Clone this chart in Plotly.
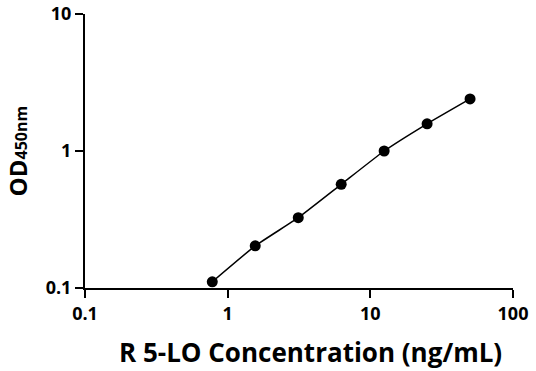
import plotly.graph_objects as go

concentration = [0.78, 1.56, 3.125, 6.25, 12.5, 25, 50]
od450 = [0.111, 0.203, 0.326, 0.571, 1.0, 1.58, 2.40]
x_ticks = [0.1, 1, 10, 100]
x_tick_labels = ["0.1", "1", "10", "100"]
y_ticks = [0.1, 1, 10]
y_tick_labels = ["0.1", "1", "10"]
x_title = "R 5-LO Concentration (ng/mL)"
y_title = "OD<span style='font-size:16px'>450nm</span>"

fig = go.Figure()
fig.add_trace(go.Scatter(
    x=concentration, y=od450, mode="lines+markers",
    line=dict(color="black", width=1.5, shape="spline", smoothing=0.4),
    marker=dict(color="black", size=11),
    showlegend=False,
))

font_family = "Open Sans"
fig.update_layout(
    width=536, height=371,
    margin=dict(l=85, r=23, t=14, b=83),
    paper_bgcolor="white", plot_bgcolor="white",
    font=dict(family=font_family, color="black"),
)
fig.update_xaxes(
    type="log", range=[-1, 2], automargin=False,
    tickvals=x_ticks, ticktext=x_tick_labels,
    ticks="outside", ticklen=8, tickwidth=2, tickcolor="black",
    showline=True, linewidth=2, linecolor="black",
    showgrid=False, zeroline=False, ticklabeloverflow="allow",
    tickfont=dict(size=18, family=font_family, weight="bold"),
)
fig.update_yaxes(
    type="log", range=[-1, 1], automargin=False,
    tickvals=y_ticks, ticktext=y_tick_labels,
    ticks="outside", ticklen=8, tickwidth=2, tickcolor="black",
    showline=True, linewidth=2, linecolor="black",
    showgrid=False, zeroline=False, ticklabeloverflow="allow",
    tickfont=dict(size=18, family=font_family, weight="bold"),
)
fig.add_annotation(
    text=x_title, xref="paper", yref="paper", x=0.526, y=-0.234,
    xanchor="center", yanchor="middle", showarrow=False,
    font=dict(size=26, family=font_family, weight="bold", color="black"),
)
fig.add_annotation(
    text=y_title, xref="paper", yref="paper", x=-0.158, y=0.5,
    xanchor="center", yanchor="middle", showarrow=False, textangle=-90,
    font=dict(size=24, family=font_family, weight="bold", color="black"),
)

fig.write_html("out.html", config={"displayModeBar": False},
               post_script="document.body.style.margin='0px';")
